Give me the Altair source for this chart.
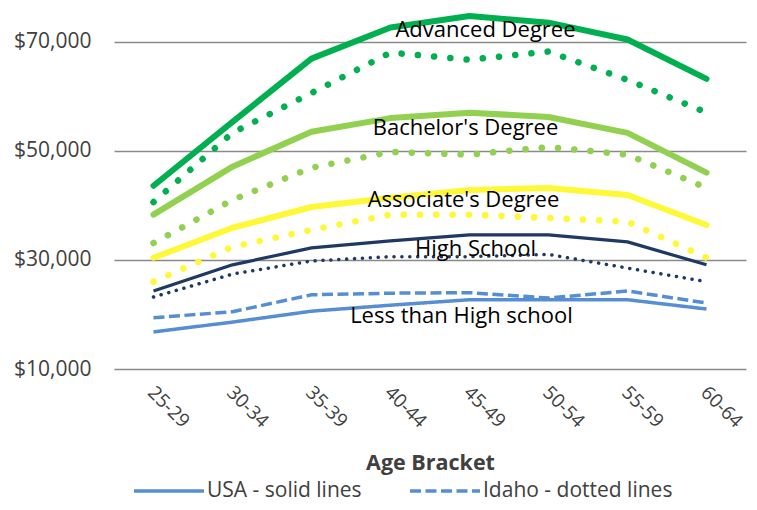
import altair as alt
import pandas as pd

ages = ["25-29", "30-34", "35-39", "40-44", "45-49", "50-54", "55-59", "60-64"]
series = ["Advanced Degree", "Bachelor's Degree", "Associate's Degree",
          "High School", "Less than High school"]
colors = ["#00B050", "#92D050", "#FFF837", "#1F3864", "#558ED5"]

usa_advanced = [43600, 55300, 66900, 72600, 74700, 73500, 70400, 63200]
usa_bachelor = [38300, 47100, 53500, 56000, 57000, 56200, 53300, 46000]
usa_associate = [30400, 35900, 39700, 41400, 42800, 43200, 41900, 36400]
usa_highschool = [24300, 29100, 32200, 33500, 34600, 34600, 33300, 29100]
usa_lesshs = [16800, 18600, 20600, 21700, 22700, 22700, 22700, 21000]

idaho_advanced = [40600, 53300, 60600, 68000, 66700, 68200, 63000, 57000]
idaho_bachelor = [33100, 41000, 46900, 49800, 49300, 50700, 49300, 43200]
idaho_associate = [26000, 32400, 35500, 38300, 38300, 37700, 37000, 30400]
idaho_highschool = [23200, 27400, 29800, 30600, 30600, 31000, 28500, 26000]
idaho_lesshs = [19400, 20500, 23600, 23900, 24000, 23000, 24300, 22100]

legend_labels = ["USA - solid lines", "Idaho - dotted lines"]

label_age = ["45-49", "45-49", "45-49", "45-49", "45-49"]
label_value = [70830, 52940, 39780, 30730, 18440]

FONT = "Open Sans"
GREY = "#404040"


def frame(name, region, values):
    return pd.DataFrame({"age": ages, "value": values, "series": name, "region": region})


usa_top = pd.concat([frame(series[0], legend_labels[0], usa_advanced),
                     frame(series[1], legend_labels[0], usa_bachelor),
                     frame(series[2], legend_labels[0], usa_associate)])
idaho_top = pd.concat([frame(series[0], legend_labels[1], idaho_advanced),
                       frame(series[1], legend_labels[1], idaho_bachelor),
                       frame(series[2], legend_labels[1], idaho_associate)])
usa_hs = frame(series[3], legend_labels[0], usa_highschool)
idaho_hs = frame(series[3], legend_labels[1], idaho_highschool)
lesshs = pd.concat([frame(series[4], legend_labels[0], usa_lesshs),
                    frame(series[4], legend_labels[1], idaho_lesshs)])

x_enc = alt.X("age:N", sort=ages, scale=alt.Scale(domain=ages, type="point", padding=0.5),
              axis=alt.Axis(title="Age Bracket", labelAngle=45, labelAlign="left",
                            labelBaseline="middle", labelPadding=20, labelFontSize=19,
                            labelOffset=-3,
                            labelColor=GREY, labelFont=FONT, ticks=False, domain=False,
                            grid=False, titleFont=FONT, titleFontSize=21.5,
                            titleFontWeight="bold", titleColor=GREY, titlePadding=21))
y_enc = alt.Y("value:Q", scale=alt.Scale(domain=[10000, 76000], nice=False, zero=False),
              axis=alt.Axis(title=None, values=[10000, 30000, 50000, 70000], format="$,.0f",
                            labelFontSize=21, labelColor=GREY, labelFont=FONT,
                            labelPadding=23, ticks=False, domain=False, grid=True,
                            gridColor="#8a8a8a", gridWidth=1.6))
color_enc = alt.Color("series:N", scale=alt.Scale(domain=series, range=colors), legend=None)

l_usa_top = alt.Chart(usa_top).mark_line(strokeWidth=6, strokeCap="round", strokeJoin="round").encode(
    x=x_enc, y=y_enc, color=color_enc, detail="series:N")
l_idaho_top = alt.Chart(idaho_top).mark_line(strokeWidth=6.5, strokeCap="round",
                                              strokeDash=[0.1, 16.2]).encode(
    x=x_enc, y=y_enc, color=color_enc, detail="series:N")
l_usa_hs = alt.Chart(usa_hs).mark_line(strokeWidth=3.2, strokeJoin="round").encode(
    x=x_enc, y=y_enc, color=color_enc)
l_idaho_hs = alt.Chart(idaho_hs).mark_line(strokeWidth=3.5, strokeCap="round",
                                            strokeDash=[0.1, 7.8]).encode(
    x=x_enc, y=y_enc, color=color_enc)
l_lesshs = alt.Chart(lesshs).mark_line(strokeWidth=3.5, color=colors[4]).encode(
    x=x_enc, y=y_enc,
    strokeDash=alt.StrokeDash("region:N", sort=legend_labels,
                              scale=alt.Scale(domain=legend_labels, range=[[1, 0], [11, 4.5]]),
                              legend=alt.Legend(title=None, orient="none", legendX=18, legendY=445,
                                                direction="horizontal", symbolType="stroke",
                                                symbolSize=4900, symbolStrokeWidth=3.5,
                                                symbolStrokeColor=colors[4], labelFont=FONT,
                                                labelFontSize=21, labelColor=GREY, labelLimit=400,
                                                labelOffset=1, columnPadding=41, padding=0)))

label_dx = [16, -4, -6, 6, -8]
text_layers = []
for i in range(len(series)):
    df = pd.DataFrame({"age": [label_age[i]], "value": [label_value[i]], "text": [series[i]]})
    text_layers.append(alt.Chart(df).mark_text(font=FONT, fontSize=22, color="black",
                                               align="center", baseline="alphabetic",
                                               dx=label_dx[i]).encode(
        x=x_enc, y=y_enc, text="text:N"))

chart = alt.layer(l_usa_top, l_idaho_top, l_usa_hs, l_idaho_hs, l_lesshs, *text_layers).properties(
    width=632, height=360,
    autosize=alt.AutoSizeParams(type="none"),
    padding={"left": 106, "top": 1, "right": 3, "bottom": 133},
    background="white",
).configure_view(strokeWidth=0)

chart.save("out.html", embed_options={"renderer": "svg", "actions": False})
